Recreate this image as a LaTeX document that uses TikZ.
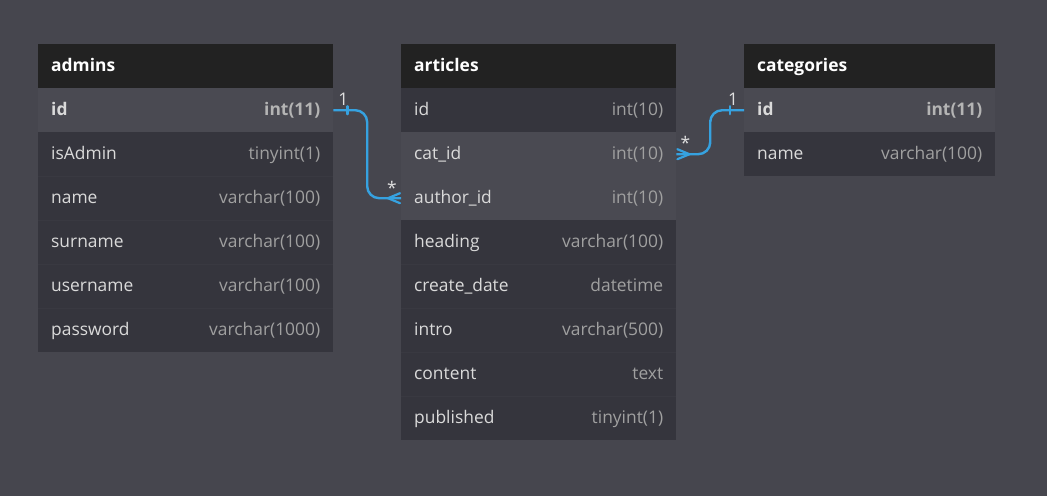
\documentclass[tikz,border=0pt]{standalone}
\usepackage{fontspec}
\setmainfont{Open Sans}
\usetikzlibrary{calc}
\definecolor{bgc}{HTML}{46464E}
\definecolor{hdrc}{HTML}{222222}
\definecolor{rowd}{HTML}{35353D}
\definecolor{rowh}{HTML}{4A4A52}
\definecolor{sepc}{HTML}{393941}
\definecolor{fieldc}{HTML}{DADADA}
\definecolor{typec}{HTML}{A0A0A0}
\definecolor{typeb}{HTML}{B4B4B4}
\definecolor{relc}{HTML}{36A2E0}
\definecolor{lblc}{HTML}{E0E0E0}
\tikzset{
  rowshape/.style={rectangle, inner sep=0pt, minimum height=44pt, draw=none},
  hdrshape/.style={rectangle, inner sep=0pt, minimum height=44pt, fill=hdrc},
  hdrtxt/.style={inner sep=0pt, text=white, font=\fontsize{17.4pt}{21pt}\selectfont\bfseries},
  fieldtxt/.style={inner sep=0pt, text=fieldc, font=\fontsize{17.4pt}{21pt}\selectfont},
  typetxt/.style={inner sep=0pt, text=typec, font=\fontsize{17.4pt}{21pt}\selectfont},
  rel/.style={draw=relc, line width=2.4pt, rounded corners=12pt},
  relfoot/.style={draw=relc, line width=2.2pt, line cap=round},
  card/.style={inner sep=0pt, text=lblc, font=\fontsize{17.4pt}{21pt}\selectfont},
}
\newcommand\hdrbox[5]{% name, x, y, width, title
  \node[hdrshape, minimum width=#4, anchor=north west] (#1) at (#2,#3) {};
  \node[hdrtxt, anchor=base west] (#1-txt) at ([xshift=13pt,yshift=-5.5pt]#1.west) {#5};
}
\newcommand\rowbox[7]{% name, x, y top, width, fill, field, type
  \node[rowshape, fill=#5, minimum width=#4, anchor=north west] (#1) at (#2,#3) {};
  \node[fieldtxt, anchor=base west] (#1-f) at ([xshift=13pt,yshift=-5.5pt]#1.west) {#6};
  \node[typetxt, anchor=base east] (#1-t) at ([xshift=-13pt,yshift=-5.5pt]#1.east) {#7};
}
\begin{document}
\begin{tikzpicture}[x=1pt,y=-1pt]
\fill[bgc] (0,0) rectangle (1047,496);
\useasboundingbox (0,0) rectangle (1047,496);

% admins
\hdrbox{ad}{38}{44}{295pt}{admins}
\rowbox{ad1}{38}{88}{295pt}{rowh}{\bfseries id}{\color{typeb}\bfseries int(11)}
\rowbox{ad2}{38}{132}{295pt}{rowd}{isAdmin}{tinyint(1)}
\rowbox{ad3}{38}{176}{295pt}{rowd}{name}{varchar(100)}
\rowbox{ad4}{38}{220}{295pt}{rowd}{surname}{varchar(100)}
\rowbox{ad5}{38}{264}{295pt}{rowd}{username}{varchar(100)}
\rowbox{ad6}{38}{308}{295pt}{rowd}{password}{varchar(1000)}
\foreach \r in {ad3,ad4,ad5,ad6} \draw[sepc, line width=1pt] (\r.north west) -- (\r.north east);

% articles
\hdrbox{ar}{401}{44}{275pt}{articles}
\rowbox{ar1}{401}{88}{275pt}{rowd}{id}{int(10)}
\rowbox{ar2}{401}{132}{275pt}{rowh}{cat\_id}{int(10)}
\rowbox{ar3}{401}{176}{275pt}{rowh}{author\_id}{int(10)}
\rowbox{ar4}{401}{220}{275pt}{rowd}{heading}{varchar(100)}
\rowbox{ar5}{401}{264}{275pt}{rowd}{create\_date}{datetime}
\rowbox{ar6}{401}{308}{275pt}{rowd}{intro}{varchar(500)}
\rowbox{ar7}{401}{352}{275pt}{rowd}{content}{text}
\rowbox{ar8}{401}{396}{275pt}{rowd}{published}{tinyint(1)}
\foreach \r in {ar5,ar6,ar7,ar8} \draw[sepc, line width=1pt] (\r.north west) -- (\r.north east);

% categories
\hdrbox{ca}{744}{44}{251pt}{categories}
\rowbox{ca1}{744}{88}{251pt}{rowh}{\bfseries id}{\color{typeb}\bfseries int(11)}
\rowbox{ca2}{744}{132}{251pt}{rowd}{name}{varchar(100)}

% relation admins.id 1 -- * articles.author_id
\coordinate (m1) at ($(ad1.east)!0.5!(ar3.west)$);
\draw[rel] (ad1.east) -| (m1) |- (ar3.west);
\draw[relfoot] ([xshift=14pt,yshift=4pt]ad1.east) -- ([xshift=14pt,yshift=-4pt]ad1.east);
\draw[relfoot] ([xshift=-1pt,yshift=5pt]ar3.west) -- ([xshift=-13pt]ar3.west) -- ([xshift=-1pt,yshift=-5pt]ar3.west);
\node[card, anchor=base] (c1) at ([xshift=10pt,yshift=5pt]ad1.east) {1};
\node[card, anchor=base] (c2) at ([xshift=-9pt,yshift=4pt]ar3.west) {*};

% relation categories.id 1 -- * articles.cat_id
\coordinate (m2) at ($(ar2.east)!0.5!(ca1.west)$);
\draw[rel] (ar2.east) -| (m2) |- (ca1.west);
\draw[relfoot] ([xshift=-14pt,yshift=4pt]ca1.west) -- ([xshift=-14pt,yshift=-4pt]ca1.west);
\draw[relfoot] ([xshift=1pt,yshift=5pt]ar2.east) -- ([xshift=13pt]ar2.east) -- ([xshift=1pt,yshift=-5pt]ar2.east);
\node[card, anchor=base] (c3) at ([xshift=-11pt,yshift=5pt]ca1.west) {1};
\node[card, anchor=base] (c4) at ([xshift=9pt,yshift=4.5pt]ar2.east) {*};
\end{tikzpicture}
\end{document}
